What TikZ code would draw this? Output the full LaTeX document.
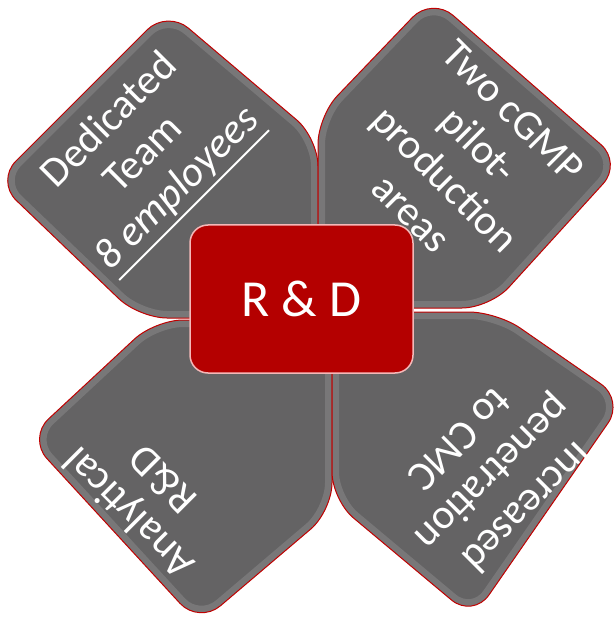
\documentclass[tikz,border=0pt]{standalone}
\usepackage{fontspec}
\setmainfont{Carlito}
\definecolor{petalgray}{RGB}{100,99,100}
\definecolor{petalline}{RGB}{192,0,0}
\definecolor{rdred}{RGB}{180,0,0}
\definecolor{rdline}{RGB}{244,184,184}
\tikzset{
  petalfill/.style={fill=petalgray, rounded corners=28pt},
  petalrim/.style={draw=white, opacity=0.13, line width=14pt, rounded corners=28pt},
  petaledge/.style={draw=petalline, line width=1pt, rounded corners=28pt},
  petaltext/.style={text=white, font=\fontsize{42}{48}\selectfont, align=center, inner sep=0pt},
  hub/.style={fill=rdred, draw=rdline, line width=1.5pt, rounded corners=18pt,
    minimum width=223pt, minimum height=148pt, text=white, font=\fontsize{52}{60}\selectfont}
}
\newcommand\drawpetal[1]{%
  \path[petalfill] #1;
  \begin{scope}\clip[rounded corners=28pt] #1; \path[petalrim] #1; \end{scope}
  \path[petaledge] #1;
}
\newcommand\thickul[1]{\setbox0\hbox{#1}\rlap{\raisebox{-13pt}{\rule{\wd0}{2pt}}}\box0}
\begin{document}
\begin{tikzpicture}[x=1pt,y=-1pt]
\useasboundingbox (0,0) rectangle (614,617);
% petals
\drawpetal{(318,318) -- (318,138) -- (167,10) -- (-4,181) -- (139,318) -- cycle}
\drawpetal{(318,308) -- (318,116) -- (432,-3) -- (622,163) -- (490,308) -- cycle}
\drawpetal{(332,320) -- (155,320) -- (28,438) -- (199,624) -- (332,511) -- cycle}
\drawpetal{(332,312) -- (497,312) -- (624,400) -- (473,618) -- (332,500) -- cycle}
% texts
\node[petaltext, rotate=45] (tl) at (146,157) {Dedicated\\Team\\\thickul{\textit{8 employees}}};
\node[petaltext, rotate=-45] (tr) at (462,162) {Two cGMP\\pilot-\\production\\areas};
\node[petaltext, rotate=-135] (br) at (494,474) {Increased\\penetration\\to CMC};
\node[petaltext, rotate=135] (bl) at (145,497) {Analytical\\R\&D};
% hub
\node[hub] (rd) at (301.5,299) {R \& D};
\end{tikzpicture}
\end{document}
